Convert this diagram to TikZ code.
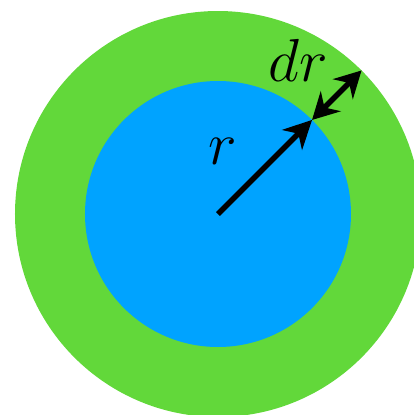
\documentclass[tikz,border=0pt]{standalone}
\usetikzlibrary{arrows.meta, calc}
\definecolor{ringgreen}{RGB}{98,216,58}
\definecolor{diskblue}{RGB}{0,163,255}
\tikzset{
  ring/.style = {fill=ringgreen, draw=none},
  disk/.style = {fill=diskblue, draw=none},
  rad/.style  = {-{Stealth[length=8pt,width=8pt,inset=2.5pt]},
                  black, line width=1.6pt},
  dbl/.style  = {{Stealth[length=7.5pt,width=8pt,inset=2.5pt]}-{Stealth[length=7.5pt,width=8pt,inset=2.5pt]},
                  black, line width=1.6pt},
  lbl/.style  = {font=\fontsize{16}{19}\selectfont, inner sep=0pt}
}
\begin{document}
\begin{tikzpicture}
  \useasboundingbox (-2.18, -2.01) rectangle (1.96, 2.14);
  \clip (-2.18, -2.01) rectangle (1.96, 2.14);
  \coordinate (O) at (0, 0);
  \coordinate (P) at (45:1.33);
  \coordinate (Q) at (45:2.03);

  %% Shell and disc
  \fill[ring] (O) circle (2.03);
  \fill[disk] (O) circle (1.33);

  %% Radius and thickness
  \draw[rad] (O) -- (P);
  \draw[dbl] (P) -- (Q);

  %% Labels
  \node[lbl] (r)  at (0.05, 0.63) {$r$};
  \node[lbl] (dr) at (0.80, 1.54) {$dr$};
\end{tikzpicture}
\end{document}
